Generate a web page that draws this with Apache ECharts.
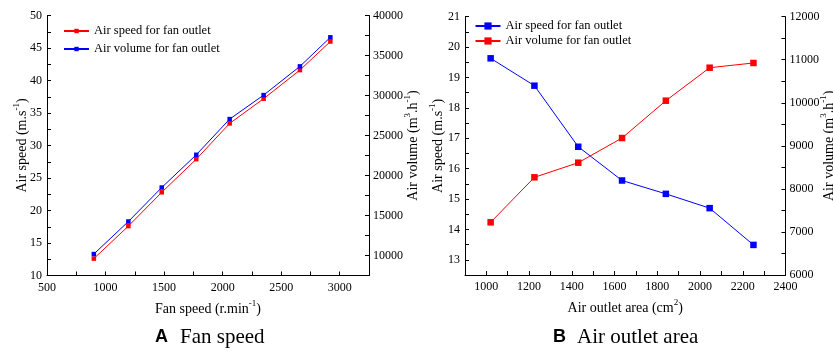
<!DOCTYPE html>
<html><head><meta charset="utf-8">
<script src="https://cdn.jsdelivr.net/npm/echarts@6/dist/echarts.min.js"></script>
<style>html,body{margin:0;padding:0;background:#fff}#c{width:833px;height:351px}</style>
</head><body><div id="c"></div>
<script>
// Panel A: fan speed
const fanSpeed   = [900, 1195, 1480, 1775, 2060, 2350, 2660, 2920];
const airSpeedA  = [12.6, 17.6, 22.8, 27.9, 33.4, 37.2, 41.6, 46.0];
const airVolumeA = [10180, 14250, 18500, 22590, 27050, 30050, 33640, 37270];
// Panel B: air outlet area
const outletArea = [1020, 1225, 1430, 1635, 1840, 2045, 2250];
const airSpeedB  = [19.63, 18.73, 16.72, 15.61, 15.17, 14.70, 13.49];
const airVolumeB = [7224, 8269, 8609, 9182, 10049, 10815, 10925];

const legendLabels = {
  A_speed: 'Air speed for fan outlet', A_volume: 'Air volume for fan outlet',
  B_speed: 'Air speed for fan outlet', B_volume: 'Air volume for fan outlet'
};
const captionA = ['A', 'Fan speed'];
const captionB = ['B', 'Air outlet area'];

const SERIF = '"Liberation Serif","Times New Roman",serif';
const RED = '#ff0000', BLUE = '#0000ff';

const nameStyle = {
  fontFamily: SERIF, fontSize: 14, color: '#000',
  rich: {
    n: { fontFamily: SERIF, fontSize: 14, color: '#000', lineHeight: 20 },
    s: { fontFamily: SERIF, fontSize: 9, color: '#000', lineHeight: 10, verticalAlign: 'top' }
  }
};
function axisBase(extra) {
  return Object.assign({
    type: 'value',
    axisLine: { show: true, lineStyle: { color: '#000', width: 1 } },
    axisTick: { show: true, inside: true, length: 4, lineStyle: { color: '#000' } },
    splitLine: { show: false },
    axisLabel: { fontFamily: SERIF, fontSize: 12, color: '#000', margin: 5 },
    nameLocation: 'middle',
    nameMoveOverlap: false,
    nameTextStyle: nameStyle
  }, extra);
}
function everyLabel(step, lo) {
  return v => (Math.abs(v / step - Math.round(v / step)) < 1e-6 && (lo === undefined || v >= lo)) ? String(Math.round(v)) : '';
}

const chart = echarts.init(document.getElementById('c'), null, { renderer: 'canvas' });
const option = {
  backgroundColor: '#fff',
  animation: false,
  grid: [
    { left: 47, top: 15.5, width: 322, height: 260, outerBoundsMode: 'none', containLabel: false },
    { left: 465, top: 16.7, width: 320.5, height: 258.3, outerBoundsMode: 'none', containLabel: false }
  ],
  xAxis: [
    axisBase({ gridIndex: 0, min: 500, max: 3250, interval: 250,
      axisLabel: { fontFamily: SERIF, fontSize: 12, color: '#000', margin: 6, formatter: v => (v % 500 === 0 && v <= 3000) ? String(v) : '' },
      name: '{n|Fan speed (r.min}{s|-1}{n|)}', nameGap: 24 }),
    axisBase({ gridIndex: 1, min: 900, max: 2400, interval: 100,
      axisLabel: { fontFamily: SERIF, fontSize: 12, color: '#000', margin: 6, formatter: v => (v % 200 === 0 && v >= 1000) ? String(v) : '' },
      name: '{n|Air outlet area (cm}{s|2}{n|)}', nameGap: 23 })
  ],
  yAxis: [
    axisBase({ gridIndex: 0, position: 'left', min: 10, max: 50, interval: 2.5,
      axisLabel: { fontFamily: SERIF, fontSize: 12, color: '#000', margin: 5, formatter: everyLabel(5) },
      name: '{n|Air speed (m.s}{s|-1}{n|)}', nameGap: 15 }),
    axisBase({ gridIndex: 0, position: 'right', min: 7500, max: 40000, interval: 2500,
      axisLabel: { fontFamily: SERIF, fontSize: 12, color: '#000', margin: 4, formatter: everyLabel(5000, 10000) },
      name: '{n|Air volume (m}{s|3}{n|.h}{s|-1}{n|)}', nameGap: 34 }),
    axisBase({ gridIndex: 1, position: 'left', min: 12.5, max: 21, interval: 0.5,
      axisLabel: { fontFamily: SERIF, fontSize: 12, color: '#000', margin: 5, formatter: everyLabel(1) },
      name: '{n|Air speed (m.s}{s|-1}{n|)}', nameGap: 17 }),
    axisBase({ gridIndex: 1, position: 'right', min: 6000, max: 12000, interval: 500,
      axisLabel: { fontFamily: SERIF, fontSize: 12, color: '#000', margin: 4, formatter: everyLabel(1000) },
      name: '{n|Air volume (m}{s|3}{n|.h}{s|-1}{n|)}', nameGap: 34 })
  ],
  legend: [
    { data: ['A_speed', 'A_volume'], orient: 'vertical', left: 58, top: 18.5, padding: 5,
      itemWidth: 25, itemHeight: 5.5, itemGap: 3, selectedMode: false,
      formatter: n => legendLabels[n],
      textStyle: { fontFamily: SERIF, fontSize: 12.5, color: '#000', lineHeight: 15 } },
    { data: ['B_speed', 'B_volume'], orient: 'vertical', left: 469.5, top: 14, padding: 5,
      itemWidth: 25, itemHeight: 9, itemGap: 1, selectedMode: false,
      formatter: n => legendLabels[n],
      textStyle: { fontFamily: SERIF, fontSize: 12.5, color: '#000', lineHeight: 14 } }
  ],
  series: [
    { name: 'A_speed', type: 'line', xAxisIndex: 0, yAxisIndex: 0,
      data: fanSpeed.map((x, i) => [x, airSpeedA[i]]),
      symbol: 'rect', symbolSize: 4.5, color: RED, lineStyle: { width: 1, color: RED }, itemStyle: { color: RED } },
    { name: 'A_volume', type: 'line', xAxisIndex: 0, yAxisIndex: 1,
      data: fanSpeed.map((x, i) => [x, airVolumeA[i]]),
      symbol: 'rect', symbolSize: 4.5, color: BLUE, lineStyle: { width: 1, color: BLUE }, itemStyle: { color: BLUE } },
    { name: 'B_speed', type: 'line', xAxisIndex: 1, yAxisIndex: 2,
      data: outletArea.map((x, i) => [x, airSpeedB[i]]),
      symbol: 'rect', symbolSize: 6.5, color: BLUE, lineStyle: { width: 1, color: BLUE }, itemStyle: { color: BLUE } },
    { name: 'B_volume', type: 'line', xAxisIndex: 1, yAxisIndex: 3,
      data: outletArea.map((x, i) => [x, airVolumeB[i]]),
      symbol: 'rect', symbolSize: 6.5, color: RED, lineStyle: { width: 1, color: RED }, itemStyle: { color: RED } }
  ],
  graphic: [
    { type: 'text', x: 155, y: 337, style: { text: captionA[0], font: 'bold 18px "Liberation Sans",Arial,sans-serif', fill: '#000', verticalAlign: 'middle' } },
    { type: 'text', x: 180, y: 337, style: { text: captionA[1], font: '21px ' + SERIF, fill: '#000', verticalAlign: 'middle' } },
    { type: 'text', x: 553, y: 337, style: { text: captionB[0], font: 'bold 18px "Liberation Sans",Arial,sans-serif', fill: '#000', verticalAlign: 'middle' } },
    { type: 'text', x: 577, y: 337, style: { text: captionB[1], font: '21px ' + SERIF, fill: '#000', verticalAlign: 'middle' } }
  ]
};
chart.setOption(option);
</script>
</body></html>
